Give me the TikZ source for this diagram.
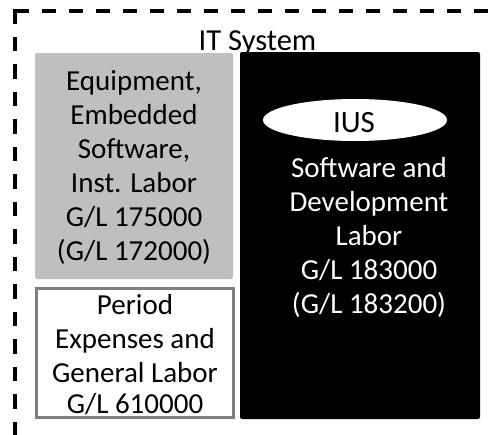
\documentclass[tikz,border=0pt]{standalone}
\usepackage{fontspec}
\setmainfont{Carlito}
\usetikzlibrary{shapes.geometric}
\definecolor{boxgray}{RGB}{191,191,191}
\definecolor{edgegray}{RGB}{127,127,127}
\tikzset{
  txt/.style={inner sep=0pt, anchor=base, align=center, font=\fontsize{29}{34}\selectfont},
  framedash/.style={line width=3.3pt, dash pattern=on 13.5pt off 13.5pt},
}
\begin{document}
\begin{tikzpicture}[x=1pt,y=-1pt]
\useasboundingbox (0,0) rectangle (495,434);
\clip (0,0) rectangle (495,434);
% dashed frame (extends past the picture)
\coordinate (corner) at (15,11);
\coordinate (topend) at (520,11);
\coordinate (leftend) at (15,460);
\draw[framedash] (corner) -- (topend);
\draw[framedash, dash pattern=on 14.5pt off 13pt] ([yshift=1.6pt]corner) -- (leftend);
% boxes
\path[fill=boxgray, rounded corners=2pt] (35,53) rectangle (233,279) node[pos=0.5] (equip) {};
\path[fill=black, rounded corners=2pt] (240,52) rectangle (480,419) node[pos=0.5] (ius box) {};
\path[fill=white, draw=edgegray, line width=3pt] (36,288) rectangle (233,417) node[pos=0.5] (period) {};
\node[ellipse, fill=white, inner sep=0pt, minimum width=184pt, minimum height=42pt] (iusoval) at (355,120) {};
% texts (base anchor = baseline of the last line)
\node[txt, font=\fontsize{30.5}{34}\selectfont] (title) at (257.5,50) {IT System};
\node[txt] (equiptext) at (134,260) {Equipment,\\Embedded\\Software,\\Inst. Labor\\G/L 175000\\(G/L 172000)};
\node[txt, font=\fontsize{31}{34}\selectfont] (iustext) at (354,132) {IUS};
\node[txt, text=white] (swtext) at (369,313) {Software and\\Development\\Labor\\G/L 183000\\(G/L 183200)};
\node[txt] (periodtext) at (135,413) {Period\\Expenses and\\General Labor\\[-3pt]G/L 610000};
\end{tikzpicture}
\end{document}
